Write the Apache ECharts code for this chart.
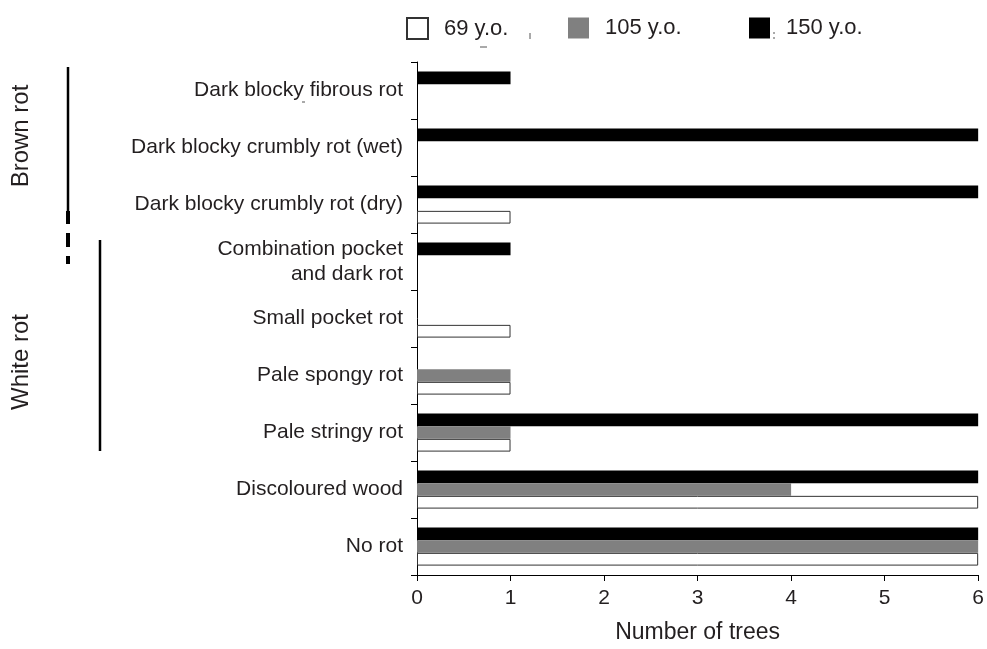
<!DOCTYPE html>
<html>
<head>
<meta charset="utf-8">
<script src="https://cdn.jsdelivr.net/npm/echarts@6/dist/echarts.min.js"></script>
<style>
html,body{margin:0;padding:0;background:#fff;}
#chart{width:987px;height:649px;}
</style>
</head>
<body>
<div id="chart"></div>
<script>
// Categories, listed top to bottom as in the figure
var categories = [
  'Dark blocky fibrous rot',
  'Dark blocky crumbly rot (wet)',
  'Dark blocky crumbly rot (dry)',
  'Combination pocket\nand dark rot',
  'Small pocket rot',
  'Pale spongy rot',
  'Pale stringy rot',
  'Discoloured wood',
  'No rot'
];
var seriesNames = ['69 y.o.', '105 y.o.', '150 y.o.'];
var age69  = [0, 0, 1, 0, 1, 1, 1, 6, 6];
var age105 = [0, 0, 0, 0, 0, 1, 1, 4, 6];
var age150 = [1, 6, 6, 1, 0, 0, 6, 6, 6];
var xTicks = [0, 1, 2, 3, 4, 5, 6];
var groupLabels = ['Brown rot', 'White rot'];

var TXT = '#231f20';
var FONT = 'Liberation Sans, Arial, Helvetica, sans-serif';

function prep(arr) {
  // bottom-to-top order for the ECharts category axis; zero values draw no bar
  return arr.slice().reverse().map(function (v) { return v === 0 ? '-' : v; });
}

var chart = echarts.init(document.getElementById('chart'), null, {renderer: 'canvas'});

var legendBase = {
  orient: 'horizontal',
  top: 12,
  itemWidth: 21,
  itemHeight: 21,
  icon: 'rect',
  selectedMode: false,
  textStyle: {fontSize: 22, color: TXT, fontFamily: FONT, padding: [0, 0, 0, 11]}
};

function faint(x1, y1, x2, y2) {
  return {type: 'line', shape: {x1: x1, y1: y1, x2: x2, y2: y2}, style: {stroke: '#555', lineWidth: 1}};
}

var option = {
  backgroundColor: '#fff',
  animation: false,
  textStyle: {fontFamily: FONT},
  legend: [
    Object.assign({}, legendBase, {left: 401, data: [seriesNames[0]]}),
    Object.assign({}, legendBase, {left: 563, data: [seriesNames[1]]}),
    Object.assign({}, legendBase, {left: 744, data: [seriesNames[2]]})
  ],
  grid: {left: 417, right: 5, top: 62, bottom: 67, containLabel: false},
  xAxis: {
    type: 'value',
    min: 0, max: 6, interval: 1,
    name: 'Number of trees',
    nameLocation: 'middle',
    nameGap: 46,
    nameTextStyle: {fontSize: 23, color: TXT, fontFamily: FONT},
    axisLine: {show: true, lineStyle: {color: '#000', width: 1}},
    axisTick: {show: true, length: 6, lineStyle: {color: '#000'}},
    axisLabel: {fontSize: 21, color: TXT, margin: 13, fontFamily: FONT,
      formatter: function (v) { return xTicks.indexOf(v) >= 0 ? String(v) : ''; }},
    splitLine: {show: false}
  },
  yAxis: {
    type: 'category',
    data: categories.slice().reverse(),
    axisLine: {show: true, lineStyle: {color: '#000', width: 1}},
    axisTick: {show: true, length: 6, alignWithLabel: false, lineStyle: {color: '#000'}},
    axisLabel: {fontSize: 21, color: TXT, margin: 14, lineHeight: 25, align: 'right', fontFamily: FONT},
    splitLine: {show: false}
  },
  series: [
    {
      name: seriesNames[2], type: 'bar', data: prep(age150),
      barCategoryGap: '33%', barGap: '0%',
      itemStyle: {color: '#000000'}
    },
    {
      name: seriesNames[1], type: 'bar', data: prep(age105),
      barCategoryGap: '33%', barGap: '0%',
      itemStyle: {color: '#808080'}
    },
    {
      name: seriesNames[0], type: 'bar', data: prep(age69),
      barCategoryGap: '33%', barGap: '0%',
      itemStyle: {color: '#ffffff', borderColor: '#333333', borderWidth: 1}
    }
  ],
  graphic: [
    {type: 'line', shape: {x1: 68, y1: 67, x2: 68, y2: 212}, style: {stroke: '#000', lineWidth: 2.5}},
    {type: 'line', shape: {x1: 68, y1: 211, x2: 68, y2: 224}, style: {stroke: '#000', lineWidth: 4}},
    {type: 'line', shape: {x1: 68, y1: 233, x2: 68, y2: 247}, style: {stroke: '#000', lineWidth: 4}},
    {type: 'line', shape: {x1: 68, y1: 256, x2: 68, y2: 264}, style: {stroke: '#000', lineWidth: 4}},
    {type: 'line', shape: {x1: 100, y1: 240, x2: 100, y2: 451}, style: {stroke: '#000', lineWidth: 2.5}},
    {type: 'text', x: 21, y: 136, rotation: Math.PI / 2,
      style: {text: groupLabels[0], fontSize: 24, fill: TXT, fontFamily: FONT, textAlign: 'center', textVerticalAlign: 'middle'}},
    {type: 'text', x: 21, y: 362, rotation: Math.PI / 2,
      style: {text: groupLabels[1], fontSize: 24, fill: TXT, fontFamily: FONT, textAlign: 'center', textVerticalAlign: 'middle'}},
    faint(480, 47, 487, 47),
    faint(530, 33, 530, 39),
    faint(774, 32, 774, 34),
    faint(774, 37, 774, 39),
    faint(302, 102, 305, 102)
  ]
};
chart.setOption(option);
</script>
</body>
</html>
